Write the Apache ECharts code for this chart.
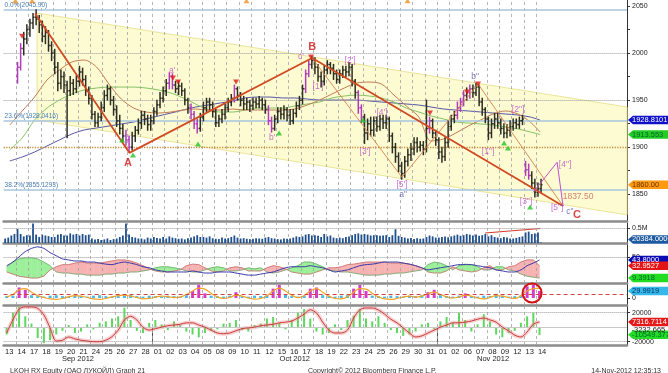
<!DOCTYPE html>
<html><head><meta charset="utf-8">
<script src="https://cdn.jsdelivr.net/npm/echarts@6/dist/echarts.min.js"></script>
<style>html,body{margin:0;padding:0;background:#fff}#c{width:668px;height:373px}</style>
</head><body><div id="c"></div>
<script>
// ---------- DATA ----------
const dateLabels = ['13','14','17','18','19','20','21','24','25','26','27','28',
  '01','02','03','04','05','08','09','10','11','12','15','16','17','18','19','22','23','24','25','26','29','30','31',
  '01','02','06','07','08','09','12','13','14'];
const monthLabels = ['Sep 2012','Oct 2012','Nov 2012'];
const monthDayCounts = [12, 23, 9];
const priceTicks = [1850, 1900, 1950, 2000, 2050];
const priceMinorTicks = [1850,1875,1900,1925,1950,1975,2000,2025,2050];
// intraday bars, 4 per day, first bar on day index 1 (Sep 14): [open, close, low, high]
const priceBars = [
 [1975,1985,1968,1990],[1985,2005,1982,2010],[2005,2015,1998,2022],[2015,2025,2010,2030],
 [2025,2032,2018,2036],[2032,2038,2026,2042],[2038,2036,2030,2046],[2036,2030,2022,2040],
 [2030,2018,2012,2034],[2018,2022,2010,2028],[2022,2008,2002,2024],[2008,2000,1992,2012],
 [2000,1985,1978,2004],[1985,1968,1960,1990],[1968,1975,1962,1982],[1975,1966,1958,1980],
 [1966,1960,1910,1970],[1960,1968,1955,1975],[1968,1962,1956,1972],[1962,1970,1958,1976],
 [1970,1980,1965,1986],[1980,1972,1966,1984],[1972,1960,1955,1976],[1960,1952,1946,1964],
 [1952,1935,1930,1955],[1935,1926,1922,1938],[1926,1932,1922,1936],[1932,1942,1928,1948],
 [1942,1955,1938,1960],[1955,1962,1950,1966],[1962,1950,1945,1964],[1950,1940,1934,1954],
 [1940,1928,1922,1944],[1928,1920,1914,1934],[1920,1912,1906,1924],[1912,1908,1902,1918],
 [1908,1900,1895,1912],[1900,1912,1897,1916],[1912,1918,1906,1922],[1918,1926,1914,1930],
 [1926,1934,1920,1938],[1934,1930,1924,1938],[1930,1924,1918,1934],[1924,1928,1918,1934],
 [1928,1938,1925,1942],[1938,1945,1934,1950],[1945,1952,1942,1958],[1952,1960,1948,1964],
 [1960,1968,1955,1972],[1968,1975,1962,1979],[1975,1966,1962,1978],[1966,1962,1958,1970],
 [1962,1965,1956,1970],[1965,1960,1955,1968],[1960,1950,1945,1962],[1950,1942,1936,1952],
 [1942,1935,1930,1946],[1935,1925,1920,1938],[1925,1920,1915,1930],[1920,1932,1917,1936],
 [1932,1942,1928,1948],[1942,1948,1938,1952],[1948,1945,1940,1952],[1945,1938,1932,1948],
 [1938,1926,1922,1940],[1926,1930,1922,1934],[1930,1935,1926,1940],[1935,1942,1930,1946],
 [1942,1948,1938,1952],[1948,1952,1944,1956],[1952,1962,1948,1966],[1962,1955,1950,1964],
 [1955,1950,1944,1958],[1950,1946,1940,1954],[1946,1948,1940,1952],[1948,1944,1938,1950],
 [1944,1948,1940,1952],[1948,1946,1942,1952],[1946,1950,1942,1954],[1950,1945,1940,1952],
 [1945,1940,1936,1950],[1940,1928,1924,1944],[1928,1920,1916,1932],[1920,1930,1918,1934],
 [1930,1938,1926,1942],[1938,1935,1930,1942],[1935,1940,1930,1944],[1940,1934,1928,1942],
 [1934,1928,1924,1940],[1928,1936,1925,1940],[1936,1944,1932,1948],[1944,1950,1940,1954],
 [1950,1962,1946,1966],[1962,1978,1958,1982],[1978,1988,1975,1992],[1988,1992,1984,1996],
 [1992,1985,1978,1995],[1985,1975,1970,1988],[1975,1970,1964,1980],[1970,1982,1966,1986],
 [1982,1988,1978,1992],[1988,1984,1978,1990],[1984,1978,1972,1988],[1978,1972,1968,1982],
 [1972,1978,1968,1982],[1978,1982,1974,1986],[1982,1980,1975,1986],[1980,1985,1976,1990],
 [1985,1970,1965,1988],[1970,1958,1952,1972],[1958,1942,1936,1960],[1942,1932,1926,1945],
 [1932,1915,1904,1935],[1915,1925,1908,1930],[1925,1918,1912,1932],[1918,1928,1912,1932],
 [1928,1922,1917,1932],[1922,1930,1918,1934],[1930,1926,1920,1934],[1926,1930,1920,1934],
 [1930,1912,1906,1932],[1912,1900,1894,1915],[1900,1890,1884,1904],[1890,1880,1874,1894],
 [1880,1872,1866,1884],[1872,1885,1868,1890],[1885,1892,1880,1898],[1892,1898,1886,1904],
 [1898,1905,1892,1910],[1905,1900,1895,1910],[1900,1902,1896,1906],[1902,1898,1892,1906],
 [1898,1920,1895,1950],[1920,1928,1915,1932],[1928,1915,1910,1930],[1915,1908,1902,1918],
 [1908,1895,1888,1910],[1895,1890,1884,1900],[1890,1905,1886,1910],[1905,1922,1900,1928],
 [1922,1930,1918,1934],[1930,1934,1926,1938],[1934,1942,1930,1948],[1942,1948,1938,1952],
 [1948,1955,1944,1960],[1955,1958,1950,1963],[1958,1962,1952,1966],[1962,1958,1953,1966],
 [1958,1964,1955,1968],[1964,1948,1944,1966],[1948,1940,1934,1952],[1940,1930,1926,1942],
 [1930,1915,1908,1932],[1915,1925,1910,1930],[1925,1930,1920,1936],[1930,1926,1920,1936],
 [1926,1920,1914,1930],[1920,1915,1910,1925],[1915,1918,1910,1924],[1918,1922,1912,1928],
 [1922,1926,1918,1930],[1926,1924,1920,1930],[1924,1928,1920,1932],[1928,1930,1924,1934],
 [1882,1876,1870,1885],[1876,1870,1866,1882],[1870,1862,1856,1874],[1862,1852,1847,1866],
 [1852,1856,1848,1862],[1856,1860,1852,1866]
];
const magentaBars = [0,1,35,36,49,50,56,57,58,70,81,82,93,94,110,111,133,142,143,144,146,164,165];
// daily moving averages
const maBrown = [1923.6,1938.5,1953.3,1971.4,1982,1990.5,1992.6,1985.2,1967.1,1951.2,1941.6,1937.4,1936.3,1937.4,1939.5,1940.6,1939.5,1939.5,1940.6,1939.5,1939.5,1939.5,1939.5,1940.6,1944.8,1950.1,1956.5,1962.9,1968.2,1969.2,1967.1,1955.4,1943.8,1932.1,1906.6,1908.7,1915.1,1922.5,1928.9,1935.3,1938.5,1935.3,1926.8,1916.2];
const maGreen = [1897.1,1909.8,1928.9,1941.6,1950.1,1956.5,1960.8,1962.9,1963.9,1963.9,1963.9,1962.9,1960.8,1957.6,1952.3,1945.9,1939.5,1937.4,1937.4,1939.5,1941.6,1941.6,1941.6,1943.8,1945.9,1948,1952.3,1954.4,1955.4,1954.4,1952.3,1948,1941.6,1937.4,1933.2,1930,1926.8,1925.7,1924.7,1923.6,1921.5,1919.4,1916.2,1913.553];
const maNavy = [1885.4,1889.6,1894.9,1901.3,1907.7,1914,1918.3,1920.4,1922.5,1924.7,1926.8,1930,1933.2,1936.3,1939.5,1942.7,1944.8,1947,1949.1,1952.3,1953.3,1953.3,1952.3,1952.3,1951.2,1950.1,1950.1,1950.1,1950.1,1949.1,1948,1947,1945.9,1944.8,1942.7,1940.6,1939.5,1938.5,1937.4,1936.3,1935.3,1934.2,1932.1,1928.8101];
// fibonacci levels
const fibValues = [2045.90, 1928.0416, 1855.1293];
const fibLabels = ['0.0%(2045.90)', '23.6%(1928.0416)', '38.2%(1855.1293)'];
// channel corners [day, price]
const channelPts = [[2.7,2042.5],[50.31,1942.7],[50.31,1828.1],[2.7,1928.9]];
// wave lines [day, price]
const mainWave = [[2.55,2042],[10.15,1894],[24.9,1994.7],[45.15,1837.5]];
const subWaves = [[[24.9,1994.7],[32.15,1868]], [[32.15,1868],[38.3,1967]], [[38.3,1967],[45.15,1837.5]]];
const projection = [[42.73,1852],[44.67,1884],[45.15,1837.5]];
const targetPrice = 1837.50;
// signal triangles [day, price]
const sellMarks = [[1.49,2018],[13.67,1973.5],[14.08,1969.2],[18.76,1969.2],[24.81,1995.8],[34.41,1936.3],[37.4,1958.6],[38.29,1967.1]];
const buyMarks = [[9.56,1907.7],[10.44,1891.8],[15.69,1903.4],[22.23,1915.1],[29.0,1928.9],[40.39,1904.5],[40.71,1899.2],[42.49,1836.5]];
const topMarks = [[0.95,2055.5],[2.3,2055.5],[19.6,2055.5],[32.6,2055.5]];
// wave labels
const waveText = ['A',"a'","b'","c'",'B',"[1']","[2']","[3']","[4']","[5']",'a"','b"','[1"]','[2"]','[3"]','[4"]','[5"]','c"','C'];
const waveX = [10.04,13.6,21.67,24.0,24.9,25.38,27.96,29.17,30.54,32.15,32.24,38.05,39.1,41.52,42.16,45.31,44.67,45.71,46.28];
const waveY = [1883,1981,1910,1996,2006,1964,1991.5,1895,1937,1860,1850,1974.6,1895,1939.5,1842,1881,1835.5,1831,1828];
const waveKind = ['R','m','m','m','R','m','m','m','m','m','n','n','m','m','m','m','m','n','R'];
// volume (thousands), 4 per day from day 0
const volume = [
 150,180,250,300, 465,300,220,260, 250,650,280,200, 280,250,230,200, 200,280,300,250,
 250,320,280,300, 250,300,260,280, 150,120,130,100, 120,150,100,130, 150,200,250,650,
 280,200,180,150, 150,120,180,150, 200,170,150,200, 150,220,180,160, 140,150,120,160,
 180,220,260,200, 200,180,220,160, 140,130,180,150, 160,200,250,180, 150,160,140,130,
 140,160,150,140, 180,200,160,150, 130,120,150,140, 150,180,220,200, 220,280,300,250,
 260,240,200,300, 220,250,180,160, 180,160,200,220, 260,300,320,280, 300,280,250,260,
 260,240,250,260, 200,260,460,240, 200,180,150,170, 130,160,140,150, 200,250,220,180,
 180,200,220,190, 220,250,280,240, 260,300,280,250, 280,240,260,300, 220,260,200,180,
 160,200,180,150, 150,170,200,220, 350,380,300,320, 350,20.384];
const volTrend = [[38.86,333],[43.3,483]];
// directional indicator panel, 2 per day
const adx = [33,40,50,60,66,69,66,58,52,46,44,42,42,40,40,38,36,35,38,40,38,35,31,29,25,23,21,21,21,21,23,21,19,19,21,21,21,19,17,15,15,17,19,21,25,29,31,31,31,33,31,29,25,21,23,25,29,33,35,36,38,40,40,40,38,36,33,29,25,27,29,31,33,35,35,35,33,31,29,25,23,21,21,25,33,38,43.8];
const plusDI = [31,40,46,48,48,46,40,33,21,19,19,17,17,15,15,15,17,17,19,19,21,21,23,25,29,31,31,29,27,23,21,21,25,29,31,29,23,23,25,29,27,29,21,19,21,25,29,33,40,40,36,31,25,23,21,21,19,17,15,15,15,17,17,19,19,21,23,25,35,40,38,33,25,33,36,35,31,25,25,31,31,25,23,17,13,11,9.3918];
const minusDI = [21,17,13,11,9.5,9.5,13,25,31,35,35,38,40,38,38,38,40,42,44,44,42,38,33,27,23,21,21,23,25,33,36,35,29,23,21,23,29,31,29,23,23,23,29,33,31,27,21,19,17,17,21,25,29,29,31,35,36,38,40,40,40,40,38,38,38,36,33,29,21,19,19,23,31,25,23,21,23,29,33,25,25,31,33,40,44,44,32.9527];
// oscillator panel
const oscHist = [8,10,45,35,12,8,6,10,12,8,6,10,8,6,10,12,8,6,8,10,12,8,6,10,8,6,10,8,6,12,30,56,20,10,8,6,10,25,8,6,10,8,12,40,56,15,8,6,10,40,45,12,8,6,10,12,40,56,30,10,8,6,10,8,6,10,8,12,25,35,12,8,6,10,20,8,6,10,8,18,10,6,8,12,50,56,29.9919];
const oscLine = [5,15,35,40,25,10,2,-4,-6,-2,5,10,8,2,-4,-6,-2,5,10,12,8,2,-4,-2,4,8,6,2,4,15,30,42,38,20,5,-2,2,12,8,0,-5,-2,10,30,42,30,12,2,10,30,40,25,8,-2,-4,5,25,40,38,20,5,-4,-6,-2,4,8,4,8,18,25,15,5,0,4,12,8,0,-4,2,10,8,2,-2,10,30,40,42];
const oscLevel = 17;
const oscCircle = [42.65, 21.5];
// money-flow panel (thousands)
const flowLine = [-8,10,25,28,28,26,17,-1,-19,-18,-13.5,-16,-18,-19,-20,-20,-18,-13,-4,10,15,10,0,-4,-2,0,2,3,4,6,6,3,0,-4,-8,-9,-8,-5,-2,-1,0,2,3,4,6,7,8.5,12.7,18,24,19.6,7,-4,-8,-8,-4,12.7,24,26.5,26.5,23.7,18,11,6,-1,-8,-13.5,-12,-8,-4,0,3,6,6,7,8.5,11,12.7,10,7,0,-5,-11,-13.5,-6.5,4,7.3167114];
const flowHist = [-10,20,28,15,5,-15,-22,-18,-10,-5,3,-8,-6,4,-3,6,8,12,15,27,10,-5,-8,6,10,4,-4,8,3,-6,-10,-14,-8,-5,-3,5,6,10,-4,-6,3,5,12,14,6,-3,10,20,25,12,-6,-10,-8,4,-4,10,16,25,12,8,15,6,-4,-8,-12,-10,-6,4,6,-3,8,14,6,20,10,-6,4,18,8,-10,-14,-8,-5,6,15,20,-10.549377];
const flowSignal = -3.232665;

// ---------- LAYOUT ----------
const X_MAX = 50.31;
const FONT = 'Liberation Sans, Arial, sans-serif';
const barX = j => 1 + (j + 0.5) / 4;
const volX = j => (j + 0.5) / 4;
const kX = k => 0.25 + 0.5 * k;
const maX = i => Math.min(i + 0.5, 43.3);
const last = a => a[a.length - 1];
const magSet = new Set(magentaBars);
const CLEAR = 'rgba(0,0,0,0)';

const G = [
  {top: 0, height: 221, min: 1821.6, max: 2056.4},
  {top: 223, height: 20, min: 0, max: 667},
  {top: 244, height: 39, min: 0, max: 74.4},
  {top: 284, height: 21, min: -30, max: 60},
  {top: 306, height: 39, min: -24.55, max: 29.24}
];

function xAx(i, extra) {
  return Object.assign({type: 'value', gridIndex: i, min: 0, max: X_MAX,
    axisLine: {show: true, onZero: false, lineStyle: {color: '#8c8c8c', width: 2.5}},
    axisTick: {show: false}, axisLabel: {show: false}, splitLine: {show: false}}, extra || {});
}
function yAx(i, labels, fmt, ticks) {
  return {type: 'value', gridIndex: i, position: 'right', min: G[i].min, max: G[i].max,
    axisLine: {show: true, onZero: false, lineStyle: {color: '#333', width: 1}},
    axisTick: {show: true, customValues: ticks || labels, length: 3, lineStyle: {color: '#333'}},
    axisLabel: {customValues: labels, formatter: fmt, margin: 5, fontSize: 7, color: '#222', fontFamily: FONT},
    splitLine: {show: false}};
}
const dayLines = () => dateLabels.slice(1).map((_, i) => ({xAxis: i + 1,
  lineStyle: {color: '#a2a2a2', type: [3, 3], width: 0.8}}));
function tag(v, text, bg, fg, dy) {
  return {coord: [X_MAX, v], symbol: 'path://M0,5L5,0L46,0L46,10L5,10Z', symbolSize: [46, 8.5],
    symbolOffset: [24, dy || 0], symbolKeepAspect: false, itemStyle: {color: bg},
    label: {show: true, formatter: text, position: 'insideLeft', distance: 4, color: fg,
      fontSize: 7.5, fontFamily: FONT}};
}
function helper(i, lines, points) {
  return {type: 'line', xAxisIndex: i, yAxisIndex: i, data: [[0, G[i].min]], showSymbol: false,
    lineStyle: {opacity: 0}, silent: true, z: 2,
    markLine: {symbol: ['none', 'none'], silent: true, animation: false, label: {show: false},
      data: dayLines().concat(lines || [])},
    markPoint: {silent: true, animation: false, data: points || []}};
}
const dotted = (v, color, w) => ({yAxis: v, lineStyle: {color: color || '#9a9a9a', type: 'dotted', width: w || 1}});

const waveStyle = {
  R: {color: '#d01818', fontSize: 11, fontWeight: 'bold'},
  m: {color: '#c04cc8', fontSize: 8.5},
  n: {color: '#5a5ab0', fontSize: 8.5}
};
const waveData = waveText.map((t, i) => ({value: [waveX[i], waveY[i]],
  label: Object.assign({show: true, formatter: t, position: 'inside', fontFamily: FONT}, waveStyle[waveKind[i]])}));
waveData.push({value: [46.36, 1847.2], label: {show: true, formatter: targetPrice.toFixed(2),
  position: 'inside', color: '#c86450', fontSize: 8.5, fontFamily: FONT}});

const lastClose = last(priceBars)[1];
const series = [
  // price panel
  {type: 'custom', xAxisIndex: 0, yAxisIndex: 0, z: 1, silent: true, data: [[0, 0]],
    renderItem: (p, api) => ({type: 'polygon', shape: {points: channelPts.map(pt => api.coord(pt))},
      style: {fill: '#fdfbd2', stroke: '#ece59a', lineWidth: 1}})},
  helper(0, [
    dotted(2000), dotted(1950), dotted(1900, '#c89040', 1.3)
  ].concat(fibValues.map((v, i) => ({yAxis: v, lineStyle: {color: '#a6c6de', type: 'solid', width: 1.5},
    label: {show: true, formatter: fibLabels[i], position: 'insideStartTop', distance: 1,
      color: '#4a80b4', fontSize: 6.5, fontFamily: FONT}}))),
  [
    tag(last(maNavy), last(maNavy).toFixed(4), '#1010c8', '#fff'),
    tag(last(maGreen), last(maGreen).toFixed(3), '#22cc22', '#063'),
    tag(lastClose, lastClose.toFixed(2), '#ff9a10', '#630')
  ]),
  {type: 'line', xAxisIndex: 0, yAxisIndex: 0, z: 3, showSymbol: false, smooth: 0.3, silent: true,
    data: maNavy.map((v, i) => [maX(i), v]), lineStyle: {color: '#5656a6', width: 1}},
  {type: 'line', xAxisIndex: 0, yAxisIndex: 0, z: 3, showSymbol: false, smooth: 0.3, silent: true,
    data: maGreen.map((v, i) => [maX(i), v]), lineStyle: {color: '#84c464', width: 1}},
  {type: 'line', xAxisIndex: 0, yAxisIndex: 0, z: 3, showSymbol: false, smooth: 0.3, silent: true,
    data: maBrown.map((v, i) => [maX(i), v]), lineStyle: {color: '#c47a52', width: 1}},
  {type: 'custom', xAxisIndex: 0, yAxisIndex: 0, z: 5, silent: true,
    data: priceBars.map((b, j) => [barX(j), b[0], b[1], b[2], b[3], magSet.has(j) ? 1 : 0]),
    encode: {x: 0, y: [1, 2, 3, 4]},
    renderItem: (p, api) => {
      const x = api.value(0);
      const o = api.coord([x, api.value(1)]), c = api.coord([x, api.value(2)]);
      const l = api.coord([x, api.value(3)]), h = api.coord([x, api.value(4)]);
      const st = {stroke: api.value(5) ? '#b03cbc' : '#2e2e22', lineWidth: 1.5};
      return {type: 'group', children: [
        {type: 'line', shape: {x1: l[0], y1: l[1] + 0.5, x2: h[0], y2: h[1] - 0.5}, style: st},
        {type: 'line', shape: {x1: o[0] - 1.4, y1: o[1], x2: o[0], y2: o[1]}, style: st},
        {type: 'line', shape: {x1: c[0], y1: c[1], x2: c[0] + 1.4, y2: c[1]}, style: st}
      ]};
    }},
  {type: 'lines', coordinateSystem: 'cartesian2d', xAxisIndex: 0, yAxisIndex: 0, z: 6, silent: true,
    data: subWaves.map(s => ({coords: s})), lineStyle: {color: '#d4804e', width: 0.9, opacity: 1}},
  {type: 'line', xAxisIndex: 0, yAxisIndex: 0, z: 7, showSymbol: false, silent: true,
    data: mainWave, lineStyle: {color: '#d24a24', width: 1.8}},
  {type: 'line', xAxisIndex: 0, yAxisIndex: 0, z: 7, showSymbol: false, silent: true,
    data: projection, lineStyle: {color: '#c050d0', width: 1}},
  {type: 'scatter', xAxisIndex: 0, yAxisIndex: 0, z: 8, silent: true, data: sellMarks,
    symbol: 'triangle', symbolRotate: 180, symbolSize: [6, 5], itemStyle: {color: '#e01818'}},
  {type: 'scatter', xAxisIndex: 0, yAxisIndex: 0, z: 8, silent: true, data: buyMarks,
    symbol: 'triangle', symbolSize: [6, 5], itemStyle: {color: '#22c422'}},
  {type: 'scatter', xAxisIndex: 0, yAxisIndex: 0, z: 8, silent: true, data: topMarks,
    symbol: 'triangle', symbolSize: [6, 5], itemStyle: {color: '#f09020'}},
  {type: 'scatter', xAxisIndex: 0, yAxisIndex: 0, z: 9, silent: true, data: waveData,
    symbol: 'circle', symbolSize: 2, itemStyle: {color: CLEAR}},

  // volume panel
  helper(1, [dotted(500)], [tag(last(volume), (last(volume) * 1000).toFixed(4), '#1e5aa0', '#fff', -3)]),
  {type: 'bar', xAxisIndex: 1, yAxisIndex: 1, z: 3, silent: true, barWidth: 1.8,
    data: volume.map((v, j) => [volX(j), v]), itemStyle: {color: '#1f4f8c'}},
  {type: 'line', xAxisIndex: 1, yAxisIndex: 1, z: 4, showSymbol: false, silent: true,
    data: volTrend, lineStyle: {color: '#d83a2a', width: 1.2}},

  // directional indicator panel
  helper(2, [dotted(50)], [
    tag(last(adx), last(adx).toFixed(4), '#0a0ab4', '#fff'),
    tag(last(minusDI), last(minusDI).toFixed(4), '#e41414', '#fff'),
    tag(last(plusDI), last(plusDI).toFixed(4), '#22dd22', '#063')
  ]),
  {type: 'custom', xAxisIndex: 2, yAxisIndex: 2, z: 3, silent: true,
    data: plusDI.map((v, i) => [kX(i), v, minusDI[i]]), encode: {x: 0, y: [1, 2]},
    renderItem: (p, api) => {
      const i = p.dataIndex;
      if (i >= plusDI.length - 1) return;
      const x0 = kX(i), x1 = kX(i + 1);
      const g0 = plusDI[i], g1 = plusDI[i + 1], r0 = minusDI[i], r1 = minusDI[i + 1];
      const d0 = g0 - r0, d1 = g1 - r1;
      const col = d => d >= 0 ? '#9cf09a' : '#f7b2b2';
      const poly = (pts, d) => ({type: 'polygon', shape: {points: pts.map(pt => api.coord(pt))},
        style: {fill: col(d), stroke: col(d), lineWidth: 0.4}});
      if (d0 * d1 < 0) {
        const t = d0 / (d0 - d1), xm = x0 + t * (x1 - x0), ym = g0 + t * (g1 - g0);
        return {type: 'group', children: [
          poly([[x0, g0], [xm, ym], [x0, r0]], d0),
          poly([[xm, ym], [x1, g1], [x1, r1]], d1)]};
      }
      return poly([[x0, g0], [x1, g1], [x1, r1], [x0, r0]], d0 + d1);
    }},
  {type: 'line', xAxisIndex: 2, yAxisIndex: 2, z: 4, showSymbol: false, silent: true,
    data: plusDI.map((v, i) => [kX(i), v]), lineStyle: {color: '#6aa86a', width: 0.8}},
  {type: 'line', xAxisIndex: 2, yAxisIndex: 2, z: 4, showSymbol: false, silent: true,
    data: minusDI.map((v, i) => [kX(i), v]), lineStyle: {color: '#cc6a6a', width: 0.8}},
  {type: 'line', xAxisIndex: 2, yAxisIndex: 2, z: 5, showSymbol: false, silent: true, smooth: 0.2,
    data: adx.map((v, i) => [kX(i), v]), lineStyle: {color: '#3434a8', width: 1}},

  // oscillator panel
  helper(3, [{yAxis: oscLevel, lineStyle: {color: '#d04444', type: [4, 3], width: 1}}], [
    tag(last(oscHist), last(oscHist).toFixed(4), '#36b8ea', '#036'),
    {coord: oscCircle, symbol: 'circle', symbolSize: 19,
      itemStyle: {color: CLEAR, borderColor: '#d41414', borderWidth: 2}}
  ]),
  {type: 'bar', xAxisIndex: 3, yAxisIndex: 3, z: 3, silent: true, barWidth: 3,
    data: oscHist.map((v, i) => ({value: [kX(i), v], itemStyle: {color: v >= 20 ? '#d63ccc' : '#4ab8e8'}}))},
  {type: 'line', xAxisIndex: 3, yAxisIndex: 3, z: 4, showSymbol: false, silent: true, smooth: 0.4,
    data: oscLine.map((v, i) => [kX(i), v]), lineStyle: {color: '#f0a424', width: 1.2}},

  // money-flow panel
  helper(4, [dotted(20), dotted(-20), {yAxis: 0, lineStyle: {color: '#c8c8c8', type: 'solid', width: 1}}], [
    tag(last(flowLine), (last(flowLine) * 1000).toFixed(4), '#e41818', '#fff'),
    tag(last(flowHist), (last(flowHist) * 1000).toFixed(3), '#22dd22', '#063'),
    {coord: [X_MAX, flowSignal], symbol: 'rect', symbolSize: [1, 1], itemStyle: {color: CLEAR},
      label: {show: true, formatter: (flowSignal * 1000).toFixed(3), position: 'right', distance: 4,
        color: '#222', fontSize: 7.5, fontFamily: FONT}}
  ]),
  {type: 'bar', xAxisIndex: 4, yAxisIndex: 4, z: 3, silent: true, barWidth: 2,
    data: flowHist.map((v, i) => [kX(i), v]), itemStyle: {color: '#5cd85c'}},
  {type: 'line', xAxisIndex: 4, yAxisIndex: 4, z: 4, showSymbol: false, silent: true, smooth: 0.3,
    data: flowLine.map((v, i) => [kX(i), v]), lineStyle: {color: 'rgba(240,140,140,0.4)', width: 4}},
  {type: 'line', xAxisIndex: 4, yAxisIndex: 4, z: 5, showSymbol: false, silent: true, smooth: 0.3,
    data: flowLine.map((v, i) => [kX(i), v]), lineStyle: {color: '#c83a3a', width: 1}}
];

// month positions from day counts
const monthStarts = monthDayCounts.map((_, i) => monthDayCounts.slice(0, i).reduce((a, b) => a + b, 0));
const monthCenters = monthStarts.map((s, i) => s + monthDayCounts[i] / 2);
const monthBounds = monthStarts.slice(1);

const option = {
  animation: false,
  backgroundColor: '#fff',
  textStyle: {fontFamily: FONT},
  title: [
    {text: 'LKOH RX Equity (ОАО ЛУКОЙЛ) Graph 21', left: 5, top: 363,
      textStyle: {fontSize: 7, fontWeight: 'normal', color: '#333', fontFamily: FONT}},
    {text: 'Copyright© 2012 Bloomberg Finance L.P.', left: 303, top: 363,
      textStyle: {fontSize: 7, fontWeight: 'normal', color: '#333', fontFamily: FONT}},
    {text: '14-Nov-2012 12:35:13', right: 2, top: 363,
      textStyle: {fontSize: 7, fontWeight: 'normal', color: '#333', fontFamily: FONT}}
  ],
  grid: G.map(g => ({left: 3.6, right: 41, top: g.top, height: g.height, containLabel: false})),
  xAxis: [
    xAx(0), xAx(1), xAx(2), xAx(3),
    xAx(4, {axisLabel: {show: true, customValues: dateLabels.map((_, i) => i),
      formatter: v => dateLabels[Math.round(v)] || '', align: 'left', padding: [0, 0, 0, 1.5],
      margin: 3, fontSize: 7.5, color: '#222', fontFamily: FONT}}),
    {type: 'value', gridIndex: 4, position: 'bottom', min: 0, max: X_MAX,
      axisLine: {show: false}, splitLine: {show: false},
      axisTick: {show: true, customValues: monthBounds, length: 18, lineStyle: {color: '#555', width: 1}},
      axisLabel: {customValues: monthCenters, formatter: v => monthLabels[monthCenters.indexOf(v)] || '',
        margin: 10, fontSize: 7.5, color: '#222', fontFamily: FONT}}
  ],
  yAxis: [
    yAx(0, priceTicks, v => String(v), priceMinorTicks),
    yAx(1, [500], () => '0.5M'),
    yAx(2, [50], v => String(v)),
    yAx(3, [0], v => String(v)),
    yAx(4, [20, -20], v => String(Math.round(v * 1000)))
  ],
  series: series
};
const chart = echarts.init(document.getElementById('c'), null, {renderer: 'canvas'});
chart.setOption(option);
</script></body></html>
